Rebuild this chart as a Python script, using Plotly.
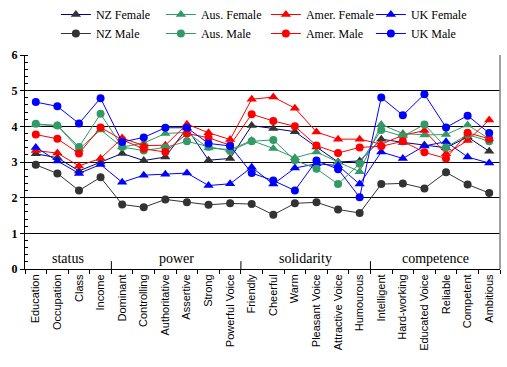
import plotly.graph_objects as go

categories = ["Education", "Occupation", "Class", "Income", "Dominant", "Controlling",
              "Authoritative", "Assertive", "Strong", "Powerful Voice", "Friendly", "Cheerful",
              "Warm", "Pleasant Voice", "Attractive Voice", "Humourous", "Intelligent",
              "Hard-working", "Educated Voice", "Reliable", "Competent", "Ambitious"]

groups = ["status", "power", "solidarity", "competence"]
group_sizes = [4, 6, 6, 6]

nz_female = [3.23, 3.12, 2.75, 3.00, 3.24, 3.04, 3.14, 3.95, 3.05, 3.10, 4.02, 3.94,
             3.85, 3.42, 3.00, 3.03, 3.64, 3.55, 3.48, 3.40, 3.70, 3.30]
aus_female = [4.05, 4.02, 3.36, 3.90, 3.42, 3.53, 3.80, 3.83, 3.39, 3.35, 3.60, 3.38,
              3.12, 3.28, 3.00, 2.73, 4.05, 3.80, 3.76, 3.77, 4.04, 3.65]
amer_female = [3.32, 3.25, 2.89, 3.10, 3.67, 3.46, 3.47, 4.06, 3.82, 3.63, 4.76, 4.82,
               4.51, 3.84, 3.64, 3.64, 3.50, 3.75, 3.88, 3.23, 3.60, 4.18]
uk_female = [3.41, 3.03, 2.68, 2.93, 2.43, 2.63, 2.66, 2.69, 2.34, 2.39, 2.85, 2.38,
             2.83, 2.95, 2.90, 2.38, 3.28, 3.10, 3.45, 3.57, 3.14, 2.97]
nz_male = [2.92, 2.68, 2.20, 2.57, 1.81, 1.73, 1.95, 1.87, 1.80, 1.84, 1.82, 1.52,
           1.84, 1.87, 1.67, 1.57, 2.38, 2.40, 2.26, 2.71, 2.37, 2.13]
aus_male = [4.07, 4.02, 3.42, 4.35, 3.42, 3.32, 3.41, 3.58, 3.43, 3.31, 3.58, 3.62,
            3.05, 2.81, 2.38, 2.95, 3.90, 3.72, 4.05, 3.41, 3.77, 3.58]
amer_male = [3.77, 3.65, 3.24, 3.97, 3.62, 3.37, 3.28, 3.80, 3.68, 3.47, 4.34, 4.15,
             4.00, 3.46, 3.25, 3.41, 3.44, 3.58, 3.27, 3.10, 3.82, 3.65]
uk_male = [4.68, 4.56, 4.08, 4.79, 3.56, 3.69, 3.96, 3.96, 3.52, 3.45, 2.69, 2.48,
           2.20, 3.04, 2.80, 2.01, 4.81, 4.31, 4.90, 3.97, 4.30, 3.81]

y_ticks = [0, 1, 2, 3, 4, 5, 6]

series = [
    ("NZ Female", nz_female, "#333333", "#000080", "triangle-up"),
    ("Aus. Female", aus_female, "#339966", "#339966", "triangle-up"),
    ("Amer. Female", amer_female, "#FF0000", "#FF0000", "triangle-up"),
    ("UK Female", uk_female, "#0000FF", "#0000FF", "triangle-up"),
    ("NZ Male", nz_male, "#333333", "#333333", "circle"),
    ("Aus. Male", aus_male, "#339966", "#339966", "circle"),
    ("Amer. Male", amer_male, "#FF0000", "#FF0000", "circle"),
    ("UK Male", uk_male, "#0000FF", "#0000FF", "circle"),
]

fig = go.Figure()
for name, vals, mcol, lcol, sym in series:
    fig.add_trace(go.Scatter(
        x=categories, y=vals, name=name, mode="lines+markers",
        line=dict(color=lcol, width=1),
        marker=dict(color=mcol, symbol=sym, size=9 if sym == "triangle-up" else 8,
                    line=dict(width=0)),
    ))

shapes = []
annotations = []
start = 0
for g, n in zip(groups, group_sizes):
    end = start + n
    if end < len(categories):
        shapes.append(dict(type="line", xref="x", yref="y", x0=end - 0.5, x1=end - 0.5,
                           y0=0, y1=0.22, line=dict(color="black", width=1)))
    annotations.append(dict(x=(start + end - 1) / 2, y=0.3, xref="x", yref="y", text=g,
                            showarrow=False, yanchor="middle",
                            font=dict(family="Liberation Serif", size=14, color="black")))
    start = end

shapes.append(dict(type="line", xref="paper", yref="paper", x0=1, x1=1, y0=0, y1=1,
                   line=dict(color="#808080", width=1.5)))

fig.update_layout(
    width=507, height=367,
    margin=dict(l=25, r=7, t=55, b=98, autoexpand=False),
    paper_bgcolor="white", plot_bgcolor="white",
    showlegend=True,
    legend=dict(orientation="h", x=0.065, xanchor="left", y=1, yref="container",
                yanchor="top", entrywidth=60, entrywidthmode="pixels",
                font=dict(family="Liberation Serif", size=12, color="black"),
                bgcolor="rgba(0,0,0,0)", itemclick=False),
    shapes=shapes,
    annotations=annotations,
)
fig.update_xaxes(
    type="category", range=[-0.5, len(categories) - 0.5], automargin=False,
    showgrid=False, showline=True, linecolor="black", linewidth=1,
    ticks="outside", tickson="boundaries", ticklen=4, tickcolor="black",
    tickangle=-90, tickfont=dict(family="Liberation Sans", size=11, color="black"),
)
fig.update_yaxes(
    range=[0, 6], tickvals=y_ticks, automargin=False,
    showgrid=True, gridcolor="black", gridwidth=1,
    zeroline=False, showline=True, linecolor="black", linewidth=1,
    ticks="outside", ticklen=4, tickcolor="black",
    tickfont=dict(family="Liberation Serif", size=12, color="black", weight="bold"),
    minor=dict(dtick=0.2, ticks="inside", ticklen=3, tickcolor="black", showgrid=False),
)

fig.write_html("out.html", config={"displayModeBar": False},
               post_script="document.body.style.margin='0';")
